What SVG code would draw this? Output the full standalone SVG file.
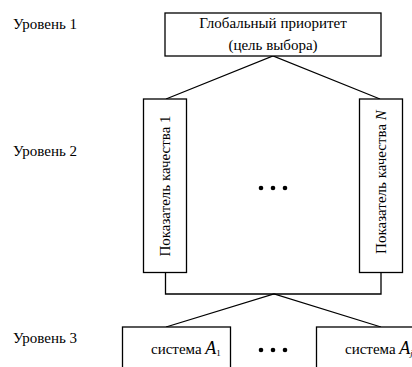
<svg xmlns="http://www.w3.org/2000/svg" width="412" height="367" viewBox="0 0 412 367">
<style>
.box{fill:#fff;stroke:#000;stroke-width:1.3}
.ln{fill:none;stroke:#000;stroke-width:1.3}
.t{font-family:'Liberation Serif','DejaVu Serif','Times New Roman',serif;font-size:15px;fill:#000}
.c{text-anchor:middle}
.i{font-style:italic}
</style>
<rect width="412" height="367" fill="#fff"/>
<g id="labels" class="t">
<text x="13" y="29">Уровень 1</text>
<text x="13" y="156">Уровень 2</text>
<text x="13" y="343">Уровень 3</text>
</g>
<g id="connectors">
<polyline class="ln" points="166,99 273,56 380,99"/>
<polyline class="ln" points="165.5,272.5 165.5,294 381,294 381,272.5"/>
<polyline class="ln" points="166,327 274,294 381,327"/>
</g>
<g id="goal" class="t">
<rect class="box" x="165" y="13" width="216" height="43"/>
<text class="c" x="273" y="28">Глобальный приоритет</text>
<text class="c" x="273" y="50">(цель выбора)</text>
</g>
<g id="criterion1" class="t">
<rect class="box" x="143.5" y="99" width="43" height="173.5"/>
<text class="c" transform="translate(170,186) rotate(-90)">Показатель качества 1</text>
</g>
<g id="criterionN" class="t">
<rect class="box" x="359.5" y="99" width="43" height="173.5"/>
<text class="c" transform="translate(386,182) rotate(-90)">Показатель качества <tspan class="i">N</tspan></text>
</g>
<g id="dots-mid">
<circle cx="261" cy="188" r="2.3"/>
<circle cx="273" cy="188" r="2.3"/>
<circle cx="285" cy="188" r="2.3"/>
</g>
<g id="system1" class="t">
<rect class="box" x="122.5" y="327" width="108" height="50"/>
<text x="151" y="354">система <tspan class="i" font-size="18">A</tspan><tspan font-size="9" dy="2">1</tspan></text>
</g>
<g id="dots-bottom">
<circle cx="261" cy="350" r="2.3"/>
<circle cx="273" cy="350" r="2.3"/>
<circle cx="285" cy="350" r="2.3"/>
</g>
<g id="systemJ" class="t">
<rect class="box" x="316.5" y="327" width="108" height="50"/>
<text x="345" y="354">система <tspan class="i" font-size="18">A</tspan><tspan class="i" font-size="9" dy="2">j</tspan></text>
</g>
</svg>
